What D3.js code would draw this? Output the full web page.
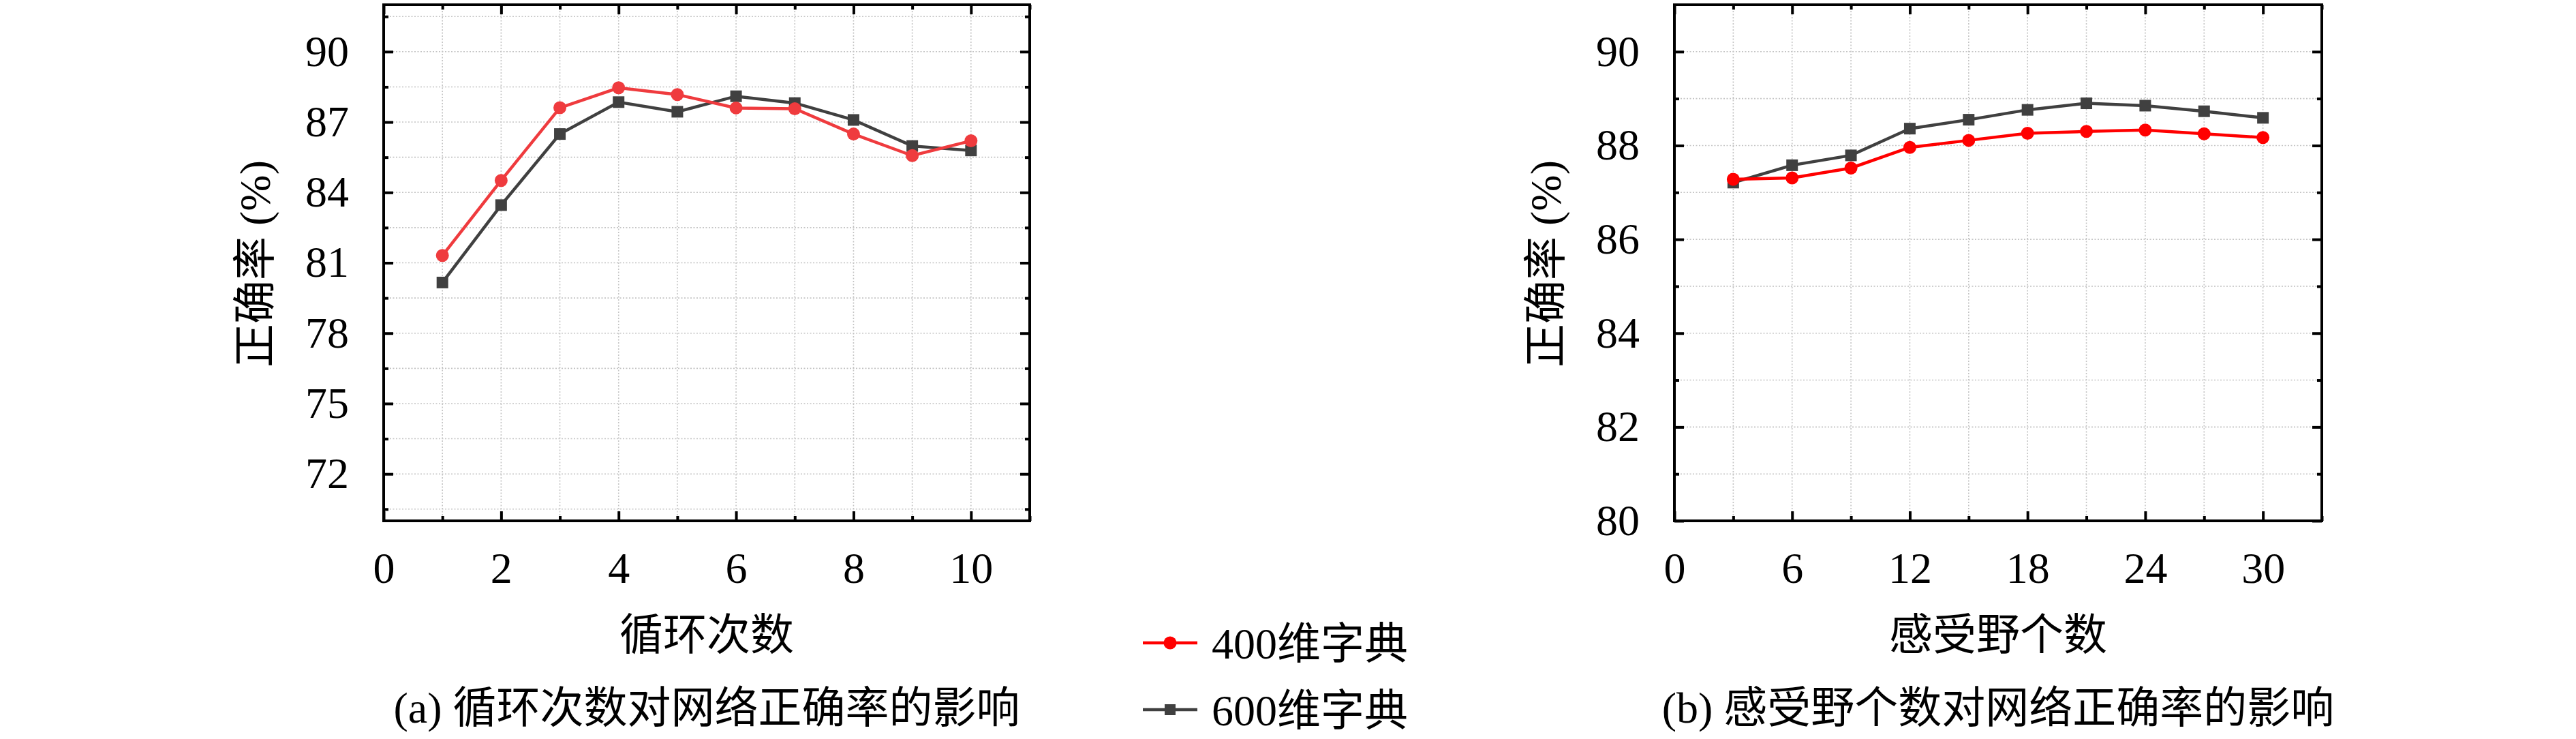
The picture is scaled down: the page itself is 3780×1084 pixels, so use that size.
<!DOCTYPE html>
<html>
<head>
<meta charset="utf-8">
<script src="https://cdn.jsdelivr.net/npm/d3@7"></script>
<style>
  body { margin: 0; background: #fff; }
  text { font-family: "Liberation Serif", "Noto Sans CJK SC", serif; fill: #000; }
</style>
</head>
<body>
<script>
// panel (a): loop count
var loopX = [1, 2, 3, 4, 5, 6, 7, 8, 9, 10];
var loop400 = [81.31, 84.51, 87.61, 88.46, 88.17, 87.60, 87.57, 86.49, 85.57, 86.20];
var loop600 = [80.16, 83.46, 86.49, 87.85, 87.44, 88.10, 87.81, 87.09, 85.98, 85.79];
var loopXTicks = [0, 2, 4, 6, 8, 10];
var loopYTicks = [72, 75, 78, 81, 84, 87, 90];

// panel (b): receptive field count
var rfX = [3, 6, 9, 12, 15, 18, 21, 24, 27, 30];
var rf400 = [87.28, 87.31, 87.52, 87.96, 88.11, 88.26, 88.30, 88.33, 88.25, 88.17];
var rf600 = [87.21, 87.58, 87.79, 88.36, 88.55, 88.76, 88.90, 88.85, 88.73, 88.59];
var rfXTicks = [0, 6, 12, 18, 24, 30];
var rfYTicks = [80, 82, 84, 86, 88, 90];

var seriesNames = ["400维字典", "600维字典"];

var W = 3780, H = 1084;
var svg = d3.select("body").append("svg")
  .attr("width", W).attr("height", H);

var plotTop = 7, plotBottom = 764;
var fontSize = 64;

function panel(opt) {
  var x = d3.scaleLinear().domain(opt.xDomain).range([opt.left, opt.right]);
  var y = d3.scaleLinear().domain(opt.yDomain).range([plotBottom, plotTop]);
  var g = svg.append("g");

  // dotted grid at every tick
  var xAll = opt.xTicks.concat(opt.xMinor).filter(d => d > opt.xDomain[0] && d < opt.xDomain[1]);
  var yAll = opt.yTicks.concat(opt.yMinor).filter(d => d > opt.yDomain[0] && d < opt.yDomain[1]);
  g.append("g").selectAll("line").data(xAll).join("line")
    .attr("x1", d => x(d)).attr("x2", d => x(d))
    .attr("y1", plotTop).attr("y2", plotBottom)
    .attr("stroke", "#c4c4c4").attr("stroke-width", 1.6)
    .attr("stroke-dasharray", "2,2.5");
  g.append("g").selectAll("line").data(yAll).join("line")
    .attr("y1", d => y(d)).attr("y2", d => y(d))
    .attr("x1", opt.left).attr("x2", opt.right)
    .attr("stroke", "#c4c4c4").attr("stroke-width", 1.6)
    .attr("stroke-dasharray", "2,2.5");

  function ticks(axis, tr, vals, size, labels) {
    var a = axis.tickValues(vals).tickSize(-size);
    if (!labels) a.tickFormat("");
    var ag = g.append("g").attr("transform", tr).call(a);
    ag.select(".domain").remove();
    ag.attr("font-family", null).attr("font-size", null);
    ag.selectAll(".tick line").attr("stroke", "#000").attr("stroke-width", 4);
    ag.selectAll("text").style("font-size", fontSize + "px").attr("fill", "#000");
    return ag;
  }
  // minor ticks all sides
  ticks(d3.axisBottom(x), "translate(0," + plotBottom + ")", opt.xMinor, 7);
  ticks(d3.axisTop(x), "translate(0," + plotTop + ")", opt.xMinor, 7);
  ticks(d3.axisLeft(y), "translate(" + opt.left + ",0)", opt.yMinor, 7);
  ticks(d3.axisRight(y), "translate(" + opt.right + ",0)", opt.yMinor, 7);
  // major ticks, labelled on bottom and left
  ticks(d3.axisBottom(x).tickPadding(46), "translate(0," + plotBottom + ")", opt.xTicks, 14, true);
  ticks(d3.axisTop(x), "translate(0," + plotTop + ")", opt.xTicks, 14);
  ticks(d3.axisLeft(y).tickPadding(51), "translate(" + opt.left + ",0)", opt.yTicks, 14, true);
  ticks(d3.axisRight(y), "translate(" + opt.right + ",0)", opt.yTicks, 14);

  // frame
  g.append("rect")
    .attr("x", opt.left).attr("y", plotTop)
    .attr("width", opt.right - opt.left).attr("height", plotBottom - plotTop)
    .attr("fill", "none").attr("stroke", "#000").attr("stroke-width", 4);

  var line = d3.line().x(d => x(d[0])).y(d => y(d[1]));
  var s600 = opt.xs.map((v, i) => [v, opt.b[i]]);
  var s400 = opt.xs.map((v, i) => [v, opt.a[i]]);

  g.append("path").attr("d", line(s600)).attr("fill", "none")
    .attr("stroke", "#404040").attr("stroke-width", 4.5);
  g.append("g").selectAll("rect").data(s600).join("rect")
    .attr("x", d => x(d[0]) - 8.5).attr("y", d => y(d[1]) - 8.5)
    .attr("width", 17).attr("height", 17).attr("fill", "#404040");

  g.append("path").attr("d", line(s400)).attr("fill", "none")
    .attr("stroke", opt.red).attr("stroke-width", 4.5);
  g.append("g").selectAll("circle").data(s400).join("circle")
    .attr("cx", d => x(d[0])).attr("cy", d => y(d[1])).attr("r", 9.5)
    .attr("fill", opt.red);

  var cx = (opt.left + opt.right) / 2;
  g.append("text").attr("x", cx).attr("y", 930).attr("dy", "0.36em")
    .attr("text-anchor", "middle").style("font-size", fontSize + "px")
    .text(opt.xLabel);
  g.append("text").attr("x", cx).attr("y", 1037).attr("dy", "0.36em")
    .attr("text-anchor", "middle").style("font-size", fontSize + "px")
    .text(opt.caption);
  g.append("text")
    .attr("transform", "translate(" + opt.yLabelX + ",387) rotate(-90)")
    .attr("dy", "0.36em").attr("text-anchor", "middle")
    .style("font-size", fontSize + "px")
    .text("正确率 (%)");
}

function range(a, b, s) { return d3.range(a, b + s / 2, s); }

panel({
  left: 563, right: 1511,
  xDomain: [0, 11], yDomain: [70, 92],
  xTicks: loopXTicks, xMinor: range(1, 11, 2),
  yTicks: loopYTicks, yMinor: [70.5, 73.5, 76.5, 79.5, 82.5, 85.5, 88.5, 91.5],
  xs: loopX, a: loop400, b: loop600, red: "#ef3b3e",
  xLabel: "循环次数", caption: "(a) 循环次数对网络正确率的影响", yLabelX: 373
});

panel({
  left: 2457, right: 3407,
  xDomain: [0, 33], yDomain: [80, 91],
  xTicks: rfXTicks, xMinor: range(3, 33, 6),
  yTicks: rfYTicks, yMinor: range(81, 89, 2),
  xs: rfX, a: rf400, b: rf600, red: "#ff0000",
  xLabel: "感受野个数", caption: "(b) 感受野个数对网络正确率的影响", yLabelX: 2267
});

// legend
var legendY = [943, 1041];
var legendColor = ["#ff0000", "#404040"];
var lg = svg.append("g").selectAll("g").data(seriesNames).join("g")
  .attr("transform", (d, i) => "translate(1677," + legendY[i] + ")");
lg.append("line").attr("x1", 0).attr("x2", 80).attr("y1", 0).attr("y2", 0)
  .attr("stroke", (d, i) => legendColor[i]).attr("stroke-width", 4.5);
lg.filter((d, i) => i === 0).append("circle").attr("cx", 40).attr("r", 9.5).attr("fill", legendColor[0]);
lg.filter((d, i) => i === 1).append("rect").attr("x", 32).attr("y", -8).attr("width", 16).attr("height", 16).attr("fill", legendColor[1]);
lg.append("text").attr("x", 101).attr("dy", "0.36em").style("font-size", fontSize + "px")
  .text(d => d);
</script>
</body>
</html>
